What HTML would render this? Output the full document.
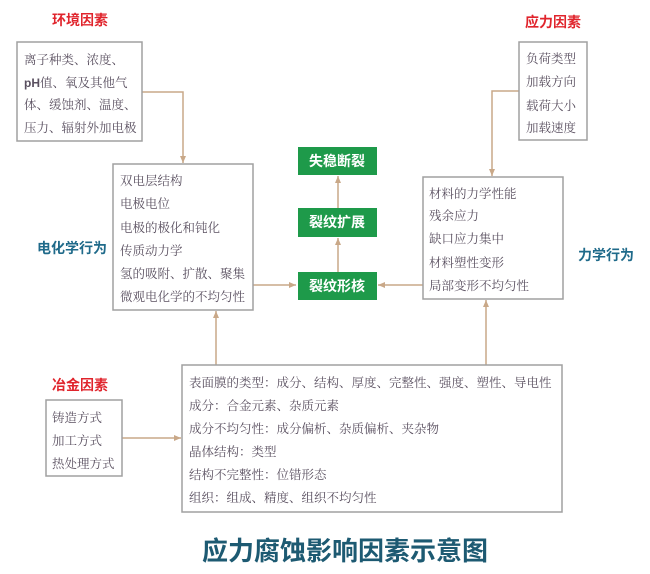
<!DOCTYPE html>
<html><head><meta charset="utf-8"><style>
html,body{margin:0;padding:0;background:#fff;}
svg{display:block;}
.t{font-family:"Liberation Serif","Noto Serif CJK SC",serif;font-size:12.5px;fill:#5a5060;}
.h{font-family:"Liberation Sans","Noto Sans CJK SC",sans-serif;font-weight:bold;}
.box{fill:#fff;stroke:#a0a0a0;stroke-width:1.5;}
.ln{stroke:#c9a888;stroke-width:1.5;fill:none;}
.g{fill:#1e9a4a;}
.gt{font-family:"Liberation Sans","Noto Sans CJK SC",sans-serif;font-weight:bold;font-size:14px;fill:#fff;}
</style></head><body>
<svg width="650" height="574" viewBox="0 0 650 574" xmlns="http://www.w3.org/2000/svg">
<defs><marker id="a" markerWidth="8" markerHeight="8" refX="7" refY="4" orient="auto" markerUnits="userSpaceOnUse"><path d="M0,1 L7,4 L0,7 z" fill="#c9a888"/></marker></defs>
<rect width="650" height="574" fill="#fff"/>
<polyline class="ln" points="142,92 183,92 183,163" marker-end="url(#a)"/>
<polyline class="ln" points="519,91 492,91 492,176" marker-end="url(#a)"/>
<line class="ln" x1="253" y1="285" x2="296" y2="285" marker-end="url(#a)"/>
<line class="ln" x1="423" y1="285" x2="378" y2="285" marker-end="url(#a)"/>
<line class="ln" x1="338" y1="272" x2="338" y2="238" marker-end="url(#a)"/>
<line class="ln" x1="338" y1="208" x2="338" y2="176" marker-end="url(#a)"/>
<line class="ln" x1="216" y1="365" x2="216" y2="311" marker-end="url(#a)"/>
<line class="ln" x1="486" y1="365" x2="486" y2="300" marker-end="url(#a)"/>
<line class="ln" x1="122" y1="438" x2="181" y2="438" marker-end="url(#a)"/>
<text class="h" x="52" y="25" font-size="14" fill="#e0242c">环境因素</text>
<text class="h" x="525" y="27" font-size="14" fill="#e0242c">应力因素</text>
<text class="h" x="37" y="253" font-size="14" fill="#1f6a8a">电化学行为</text>
<text class="h" x="578" y="260" font-size="14" fill="#1f6a8a">力学行为</text>
<text class="h" x="52" y="390" font-size="14" fill="#e0242c">冶金因素</text>
<text class="h" x="202" y="560" font-size="26" fill="#1d5a72">应力腐蚀影响因素示意图</text>
<rect class="box" x="17" y="42" width="125" height="99"/>
<text class="t" x="24" y="64">离子种类、浓度、</text>
<text class="t" x="24" y="87"><tspan font-family="Liberation Sans" font-weight="bold" font-size="12">pH</tspan>值、氧及其他气</text>
<text class="t" x="24" y="109">体、缓蚀剂、温度、</text>
<text class="t" x="24" y="132">压力、辐射外加电极</text>
<rect class="box" x="113" y="164" width="140" height="146"/>
<text class="t" x="120" y="185">双电层结构</text>
<text class="t" x="120" y="208">电极电位</text>
<text class="t" x="120" y="232">电极的极化和钝化</text>
<text class="t" x="120" y="255">传质动力学</text>
<text class="t" x="120" y="278">氢的吸附、扩散、聚集</text>
<text class="t" x="120" y="301">微观电化学的不均匀性</text>
<rect class="box" x="519" y="42" width="68" height="98"/>
<text class="t" x="526" y="63">负荷类型</text>
<text class="t" x="526" y="86">加载方向</text>
<text class="t" x="526" y="110">载荷大小</text>
<text class="t" x="526" y="132">加载速度</text>
<rect class="box" x="423" y="177" width="140" height="122"/>
<text class="t" x="429" y="198">材料的力学性能</text>
<text class="t" x="429" y="220">残余应力</text>
<text class="t" x="429" y="243">缺口应力集中</text>
<text class="t" x="429" y="267">材料塑性变形</text>
<text class="t" x="429" y="290">局部变形不均匀性</text>
<rect class="g" x="298" y="147" width="79" height="28"/>
<text class="gt" x="309" y="166">失稳断裂</text>
<rect class="g" x="298" y="208" width="79" height="29"/>
<text class="gt" x="309" y="227">裂纹扩展</text>
<rect class="g" x="298" y="272" width="79" height="28"/>
<text class="gt" x="309" y="291">裂纹形核</text>
<rect class="box" x="46" y="400" width="76" height="76"/>
<text class="t" x="52" y="422">铸造方式</text>
<text class="t" x="52" y="445">加工方式</text>
<text class="t" x="52" y="468">热处理方式</text>
<rect class="box" x="182" y="365" width="380" height="147"/>
<text class="t" x="189" y="387">表面膜的类型：成分、结构、厚度、完整性、强度、塑性、导电性</text>
<text class="t" x="189" y="410">成分：合金元素、杂质元素</text>
<text class="t" x="189" y="433">成分不均匀性：成分偏析、杂质偏析、夹杂物</text>
<text class="t" x="189" y="456">晶体结构：类型</text>
<text class="t" x="189" y="479">结构不完整性：位错形态</text>
<text class="t" x="189" y="502">组织：组成、精度、组织不均匀性</text>
</svg>
</body></html>
